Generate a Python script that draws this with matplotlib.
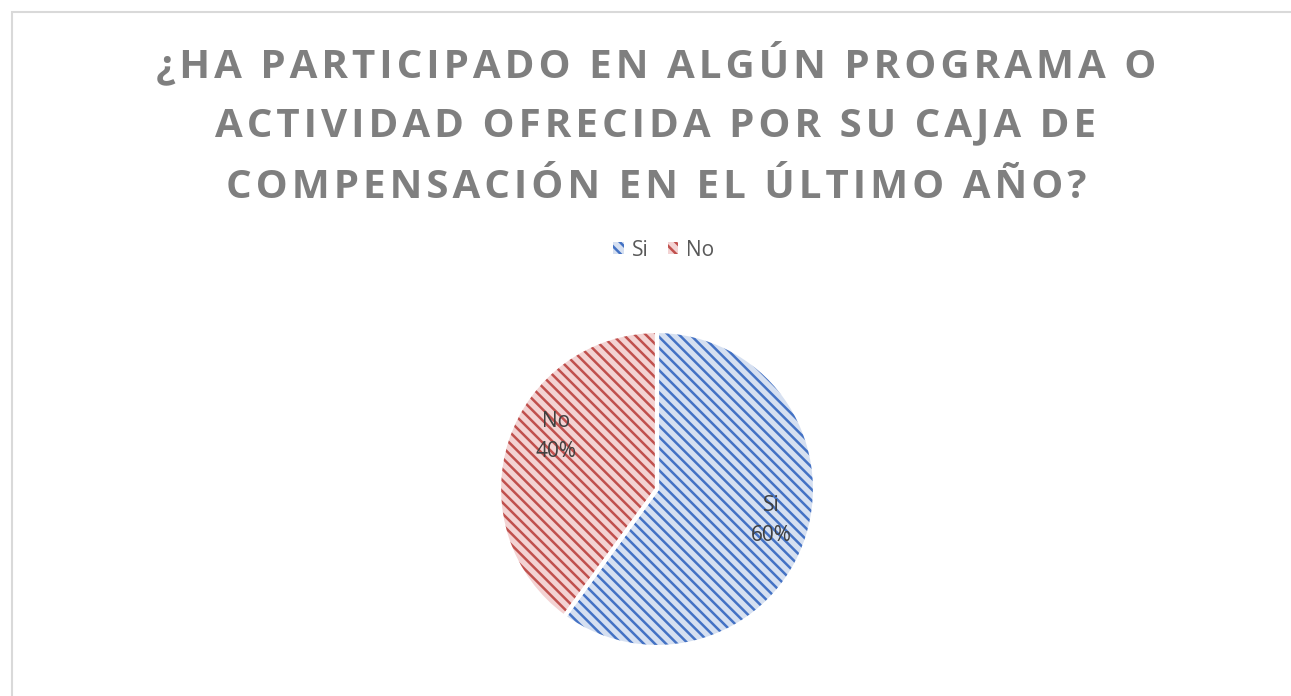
import matplotlib
matplotlib.use("Agg")
import matplotlib.pyplot as plt
import numpy as np
from matplotlib.patches import Rectangle

LABELS = ["Si", "No"]
VALUES = [60, 40]
FACE = ["#D6E0F1", "#F3D3D3"]
HATCH_COL = ["#4472C4", "#C0504D"]
TITLE_LINES = [
    "¿HA PARTICIPADO EN ALGÚN PROGRAMA O",
    "ACTIVIDAD OFRECIDA POR SU CAJA DE",
    "COMPENSACIÓN EN EL ÚLTIMO AÑO?",
]
# data label placement: (angle in degrees, distance from centre as fraction of radius)
LABEL_POS = [(-15.5, 0.75), (152.6, 0.72)]

plt.rcParams["font.family"] = ["Open Sans", "DejaVu Sans"]
plt.rcParams["hatch.linewidth"] = 1.8

W, H = 1291, 696
fig = plt.figure(figsize=(W / 100, H / 100), dpi=100)
fig.patch.set_facecolor("white")

# chart frame (only top and left edges visible)
fig.patches.append(Rectangle((12 / W, -0.1), 1.2, (H - 12) / H + 0.1, transform=fig.transFigure,
                             fill=False, edgecolor="#D9D9D9", linewidth=1.5))

# title with wide letter spacing
for i, line in enumerate(TITLE_LINES):
    spaced = "\u200a".join(line)
    fig.text(656 / W, 1 - (64 + i * 61.5) / H, spaced, ha="center", va="center",
             fontsize=29, fontweight="bold", color="#7F7F7F")

cx, cy, r = 657, 489, 158
ax = fig.add_axes([(cx - r) / W, (H - cy - r) / H, 2 * r / W, 2 * r / H])
wedges, texts = ax.pie(VALUES, labels=[f"{l}\n{v}%" for l, v in zip(LABELS, VALUES)],
                       startangle=90, counterclock=False,
                       textprops=dict(fontsize=15, color="#404040", ha="center", va="center",
                                      linespacing=1.55))
for t, (ang, d) in zip(texts, LABEL_POS):
    t.set_position((d * np.cos(np.radians(ang)), d * np.sin(np.radians(ang))))
    t.set_ha("center")
for w, fc, hc in zip(wedges, FACE, HATCH_COL):
    w.set_facecolor(fc)
    w.set_edgecolor(hc)
    w.set_hatch("\\\\\\")
    w.set_linewidth(0)
# white separators between slices
ax.pie(VALUES, startangle=90, counterclock=False,
       wedgeprops=dict(facecolor="none", edgecolor="white", linewidth=3))
ax.set_xlim(-1, 1)
ax.set_ylim(-1, 1)
ax.set_aspect("equal")

leg = fig.legend(wedges, LABELS, loc="center", bbox_to_anchor=(664 / W, 1 - 250 / H),
                 ncol=2, frameon=False, fontsize=15, handlelength=0.5, handleheight=0.5,
                 handletextpad=0.4, columnspacing=0.9, labelcolor="#595959")

fig.savefig("out.png", dpi=100)
